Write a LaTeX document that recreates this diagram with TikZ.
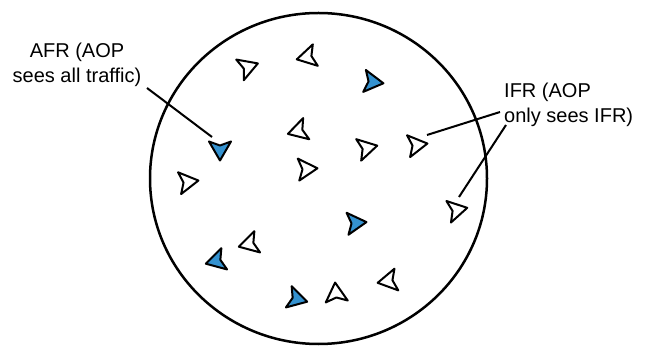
\documentclass[tikz,border=0pt]{standalone}
\usepackage{fontspec}
\setmainfont{Liberation Sans}
\definecolor{planeblue}{RGB}{52,146,208}
\tikzset{
  plane/.pic={\path[pic actions] (10.5,0) -- (-8.5,11) -- (-4.5,0) -- (-8.5,-11) -- cycle;},
  wplane/.style={draw=black, fill=white, line width=2pt, line join=round},
  bplane/.style={draw=black, fill=planeblue, line width=2pt, line join=round},
  leader/.style={draw=black, line width=2pt},
  lbl/.style={font=\fontsize{20}{25}\selectfont, inner sep=0pt}
}
\begin{document}
\begin{tikzpicture}[x=1pt,y=-1pt]
\useasboundingbox (0,0) rectangle (645,347);
% airspace
\draw[line width=2.5pt] (318.5,178.5) ellipse [x radius=168.5, y radius=165.5];
% white (IFR) aircraft
\pic[wplane, rotate=20]  at (248,67)  {plane};
\pic[wplane, rotate=193] at (307,57)  {plane};
\pic[wplane, rotate=196] at (298,131) {plane};
\pic[wplane, rotate=4]   at (307,169) {plane};
\pic[wplane, rotate=13]  at (367,148) {plane};
\pic[wplane, rotate=8]   at (417,145) {plane};
\pic[wplane, rotate=8]   at (188,182) {plane};
\pic[wplane, rotate=12]  at (457,210) {plane};
\pic[wplane, rotate=195] at (249,244) {plane};
\pic[wplane, rotate=95]  at (336,293) {plane};
\pic[wplane, rotate=190] at (388,281) {plane};
% blue (AFR) aircraft
\pic[bplane, rotate=-7]  at (373,82)  {plane};
\pic[bplane, rotate=-90] at (220,150) {plane};
\pic[bplane, rotate=5]   at (356,223) {plane};
\pic[bplane, rotate=195] at (216,261) {plane};
\pic[bplane, rotate=-15] at (297,299) {plane};
% labels
\node[lbl, align=center] (afr) at (77,64.5) {AFR (AOP\\sees all traffic)};
\node[lbl, align=left, anchor=west] (ifr) at (504,104.5) {IFR (AOP\\only sees IFR)};
% leader ends
\coordinate (afrA) at (147,88);
\coordinate (afrB) at (212,137);
\coordinate (ifrA1) at (500,112);
\coordinate (ifrB1) at (427,135);
\coordinate (ifrA2) at (506,125);
\coordinate (ifrB2) at (459,197);
\draw[leader] (afrA) -- (afrB);
\draw[leader] (ifrA1) -- (ifrB1);
\draw[leader] (ifrA2) -- (ifrB2);
\end{tikzpicture}
\end{document}
